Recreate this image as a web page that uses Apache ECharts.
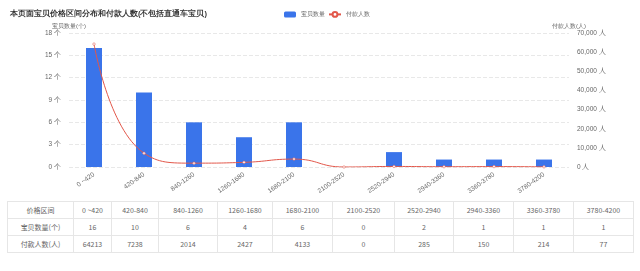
<!DOCTYPE html>
<html>
<head>
<meta charset="utf-8">
<script src="https://cdn.jsdelivr.net/npm/echarts@6/dist/echarts.min.js"></script>
<style>
  body { margin: 0; background: #fff; font-family: "Noto Sans CJK SC", sans-serif; }
  #chart { position: absolute; left: 0; top: 0; width: 640px; height: 200px; }
  #tbl { position: absolute; left: 7px; top: 201px; border-collapse: collapse; table-layout: fixed; }
  #tbl td { border: 1px solid #e6e6e6; height: 16px; padding: 0; text-align: center;
            font-size: 7px; color: #666; white-space: nowrap; }
</style>
</head>
<body>
<div id="chart"></div>
<table id="tbl"></table>
<script>
const categories = ["0 ~420", "420-840", "840-1260", "1260-1680", "1680-2100",
  "2100-2520", "2520-2940", "2940-3360", "3360-3780", "3780-4200"];
const itemCounts = [16, 10, 6, 4, 6, 0, 2, 1, 1, 1];
const payerCounts = [64213, 7238, 2014, 2427, 4133, 0, 285, 150, 214, 77];
const colWidths = [66, 38, 47, 59, 55, 60, 62, 59, 60, 60, 60];

const chart = echarts.init(document.getElementById("chart"));
const labelFont = { fontSize: 6.5, color: "#666" };

chart.setOption({
  animation: false,
  title: {
    text: "本页面宝贝价格区间分布和付款人数(不包括直通车宝贝)",
    left: 5, top: 5,
    textStyle: { fontSize: 7.5, fontWeight: "bold", color: "#333" }
  },
  legend: {
    top: 6, left: 279, itemWidth: 12, itemHeight: 6, itemGap: 3,
    textStyle: { fontSize: 6, color: "#666" },
    data: ["宝贝数量", "付款人数"]
  },
  grid: { left: 69, right: 71, top: 33, bottom: 33 },
  xAxis: {
    type: "category",
    data: categories,
    axisTick: { show: false },
    axisLine: { show: false },
    axisLabel: { ...labelFont, rotate: 35, interval: 0, margin: 7 }
  },
  yAxis: [
    {
      type: "value", name: "宝贝数量(个)", min: 0, max: 18, interval: 3,
      nameTextStyle: { fontSize: 6, color: "#666", padding: [0, 0, -2, 0] },
      nameGap: 6,
      axisLabel: { ...labelFont, formatter: "{value} 个" },
      splitLine: { lineStyle: { color: "#e8e8e8", type: "dashed" } }
    },
    {
      type: "value", name: "付款人数(人)", min: 0, max: 70000, interval: 10000,
      nameTextStyle: { fontSize: 6, color: "#666", padding: [0, 0, -2, 0] },
      nameGap: 6,
      axisLabel: {
        ...labelFont,
        formatter: v => v.toLocaleString("en-US") + " 人"
      },
      splitLine: { show: false }
    }
  ],
  series: [
    {
      name: "宝贝数量", type: "bar", data: itemCounts, barWidth: 16,
      itemStyle: { color: "#3a74ea" }
    },
    {
      name: "付款人数", type: "line", yAxisIndex: 1, data: payerCounts,
      smooth: true, symbol: "circle", symbolSize: 2.5,
      lineStyle: { color: "#e2574a", width: 1 },
      itemStyle: { color: "#fff", borderColor: "#e2574a", borderWidth: 0.5 }
    }
  ]
});

const rows = [
  ["价格区间"].concat(categories),
  ["宝贝数量(个)"].concat(itemCounts),
  ["付款人数(人)"].concat(payerCounts)
];
const tbl = document.getElementById("tbl");
let html = "<colgroup>" + colWidths.map(w => `<col style="width:${w}px">`).join("") + "</colgroup>";
for (const r of rows) {
  html += "<tr>" + r.map(c => `<td>${c}</td>`).join("") + "</tr>";
}
tbl.innerHTML = html;
</script>
</body>
</html>
